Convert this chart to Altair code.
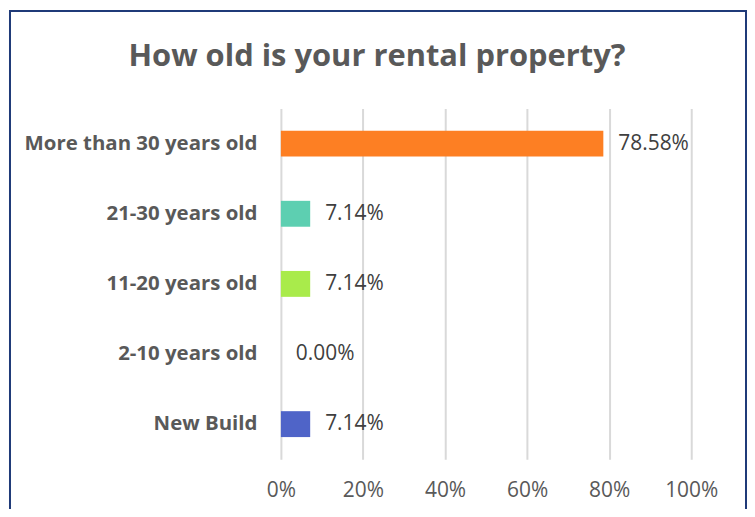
import altair as alt
import pandas as pd

categories = ["More than 30 years old", "21-30 years old", "11-20 years old", "2-10 years old", "New Build"]
shares = [0.7858, 0.0714, 0.0714, 0.0, 0.0714]
colors = ["#FD7F23", "#5DCFB1", "#A9EB4B", "#FFFFFF", "#4F64C8"]
x_ticks = [0, 0.2, 0.4, 0.6, 0.8, 1.0]
title_text = "How old is your rental property?"

FONT = "Open Sans"
GRAY = "#595959"

df = pd.DataFrame({"category": categories, "share": shares})

x_enc = alt.X(
    "share:Q",
    scale=alt.Scale(domain=[0, 1], nice=False),
    title=None,
    axis=alt.Axis(
        values=x_ticks, format=".0%", grid=True, gridColor="#D9D9D9", gridWidth=2,
        domain=False, ticks=False, labelFontSize=21, labelColor=GRAY, labelFlush=False,
        labelFont=FONT, labelPadding=20,
    ),
)
y_enc = alt.Y(
    "category:N",
    sort=categories,
    title=None,
    axis=alt.Axis(
        domain=False, ticks=False, grid=False, labelFontSize=20.5, labelLimit=300,
        labelFontWeight="bold", labelColor=GRAY, labelFont=FONT, labelPadding=24,
    ),
)

frame = alt.Chart(pd.DataFrame({"a": [0]})).mark_rect(
    fillOpacity=0, stroke="#1F3A78", strokeWidth=2
).encode(
    x=alt.value(-272), x2=alt.value(467), y=alt.value(-98), y2=alt.value(700)
)

title = alt.Chart(pd.DataFrame({"t": [title_text]})).mark_text(
    align="center", baseline="middle", fontSize=31, fontWeight="bold", color=GRAY, font=FONT
).encode(
    x=alt.value(96.5), y=alt.value(-52), text="t:N"
)

bars = alt.Chart(df).mark_bar(size=26).encode(
    x=x_enc,
    y=y_enc,
    color=alt.Color("category:N", scale=alt.Scale(domain=categories, range=colors), legend=None),
)

labels = alt.Chart(df).mark_text(
    align="left", baseline="middle", dx=15, fontSize=21, color="#404040", font=FONT
).encode(
    x=alt.X("share:Q"),
    y=alt.Y("category:N", sort=categories),
    text=alt.Text("share:Q", format=".2%"),
)

chart = alt.layer(frame, title, bars, labels).properties(
    width=412,
    height=352,
    autosize="none",
    padding={"left": 274, "top": 100, "right": 56, "bottom": 49},
    background="white",
).configure_view(stroke=None)

chart.save("out.html", embed_options={"renderer": "svg", "actions": False})
